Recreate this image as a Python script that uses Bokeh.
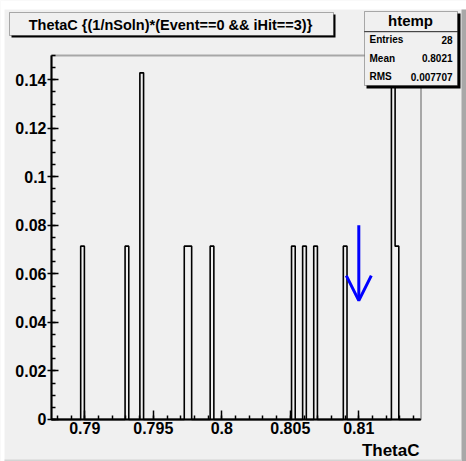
import numpy as np
from bokeh.plotting import figure
from bokeh.models import FixedTicker, BoxAnnotation, Label, Arrow, OpenHead
from bokeh.embed import file_html
from bokeh.resources import INLINE

# ---- data ---------------------------------------------------------------
hist_name = "htemp"
title_text = "ThetaC {(1/nSoln)*(Event==0 && iHit==3)}"
x_title = "ThetaC"
x_lo, bin_w, n_bins = 0.78754, 0.00027, 100
# filled bins: ThetaC at bin centre and weighted content
bin_theta = [0.78983, 0.79307, 0.79416, 0.79738, 0.79769, 0.79927,
             0.80523, 0.80604, 0.80682, 0.80900, 0.81252, 0.81279]
bin_content = [1/14, 1/14, 2/14, 1/14, 1/14, 1/14,
               1/14, 1/14, 1/14, 1/14, 2/14, 1/14]
x_ticks = [0.79, 0.795, 0.80, 0.805, 0.81]
x_tick_labels = ["0.79", "0.795", "0.8", "0.805", "0.81"]
y_ticks = [0, 0.02, 0.04, 0.06, 0.08, 0.10, 0.12, 0.14]
y_tick_labels = ["0", "0.02", "0.04", "0.06", "0.08", "0.1", "0.12", "0.14"]
stat_names = ["Entries", "Mean", "RMS"]
stat_values = ["28", "0.8021", "0.007707"]
arrow_x, arrow_y_start, arrow_y_end = 0.810, 0.080, 0.049
frame_x = (0.787569, 0.814540)
frame_y = (0.0, 0.15)

# ---- histogram outline ------------------------------------------------------
edges = x_lo + bin_w * np.arange(n_bins + 1)
counts = np.zeros(n_bins)
for t, c in zip(bin_theta, bin_content):
    counts[int((t - x_lo) // bin_w)] += c
xs = np.repeat(edges, 2)
ys = np.concatenate([[0.0], np.repeat(counts, 2), [0.0]])

FONT = "Liberation Sans"
BG = "#f0f0f0"
W, H = 466, 461

p = figure(width=W, height=H,
           min_border_left=0, min_border_right=0, min_border_top=0,
           min_border_bottom=0,
           x_range=(0.7838467, 0.8178613), y_range=(-0.017308, 0.172665),
           output_backend="svg", toolbar_location=None, tools="")
p.background_fill_color = BG
p.border_fill_color = BG
p.outline_line_color = None
p.xgrid.visible = False
p.ygrid.visible = False

def box(x0, y0, x1, y1, fill, line=None, lw=1, level="underlay"):
    b = BoxAnnotation(left=x0, right=x1, top=H - y0, bottom=H - y1,
                      left_units="screen", right_units="screen",
                      top_units="screen", bottom_units="screen",
                      fill_color=fill, fill_alpha=1,
                      line_color=line, line_width=lw, level=level)
    p.add_layout(b)

# canvas bevel
box(0, 0, W, 9, "white")
box(0, 0, 4, H, "white")
box(461, 9, W, H, "#a8a8a8")
box(4, 459, 461, H, "#d4d4d4")

# frame
p.add_layout(BoxAnnotation(left=frame_x[0], right=frame_x[1],
                           bottom=frame_y[0], top=frame_y[1],
                           fill_alpha=0, line_color="black", line_width=2,
                           level="underlay"))

p.line(xs, ys, line_color="black", line_width=1.6)

# axes (drawn at the frame edges)
p.xaxis.fixed_location = frame_y[0]
p.yaxis.fixed_location = frame_x[0]
p.xaxis.bounds = frame_x
p.yaxis.bounds = frame_y
p.xaxis.ticker = FixedTicker(ticks=x_ticks,
                             minor_ticks=list(np.round(np.arange(0.788, 0.8145, 0.001), 3)))
p.xaxis.major_label_overrides = {t: l for t, l in zip(x_ticks, x_tick_labels)}
p.yaxis.ticker = FixedTicker(ticks=y_ticks,
                             minor_ticks=list(np.round(np.arange(0, 0.1501, 0.005), 3)))
p.yaxis.major_label_overrides = {t: l for t, l in zip(y_ticks, y_tick_labels)}
for ax in (p.xaxis[0], p.yaxis[0]):
    ax.axis_line_width = 2
    ax.major_tick_line_width = 1.5
    ax.minor_tick_line_width = 1.5
    ax.major_label_text_font = FONT
    ax.major_label_text_font_style = "bold"
    ax.major_label_text_font_size = "16px"
    ax.major_label_text_color = "black"
p.xaxis.major_tick_in = 9
p.xaxis.major_tick_out = 0
p.xaxis.minor_tick_in = 4
p.xaxis.minor_tick_out = 0
p.xaxis.major_label_standoff = 3
p.yaxis.major_tick_in = 7
p.yaxis.major_tick_out = 4
p.yaxis.minor_tick_in = 4
p.yaxis.minor_tick_out = 0
p.yaxis.major_label_standoff = 1

def text(x, y, s, size, align="left", baseline="middle"):
    p.add_layout(Label(x=x, y=H - y, x_units="screen", y_units="screen",
                       text=s, text_font=FONT, text_font_style="bold",
                       text_font_size=size, text_align=align,
                       text_baseline=baseline, text_color="black",
                       level="overlay"))

# title box with shadow
box(11, 14, 335, 37, "black", level="overlay")
box(9, 12, 333, 35, BG, "black", 1, level="overlay")
text(170, 24, title_text, "14.5px", "center")

# stats box with shadow
box(366, 13, 460, 88, "black", level="overlay")
box(364, 11, 457, 85, BG, "black", 1, level="overlay")
box(364, 31, 457, 31.5, "black", "black", 1, level="overlay")
text(410, 20, hist_name, "15px", "center")
for i, (nm, v) in enumerate(zip(stat_names, stat_values)):
    yy = 39 + i * 18.5
    text(369, yy, nm, "10px", "left")
    text(452, yy, v, "10px", "right")

# x axis title
text(419, 450, x_title, "17px", "right")

# arrow
p.add_layout(Arrow(x_start=arrow_x, y_start=arrow_y_start, x_end=arrow_x,
                   y_end=arrow_y_end, line_color="#0000ff", line_width=3,
                   end=OpenHead(size=25, line_color="#0000ff", line_width=3)))

open("out.html", "w").write(file_html(p, INLINE))
